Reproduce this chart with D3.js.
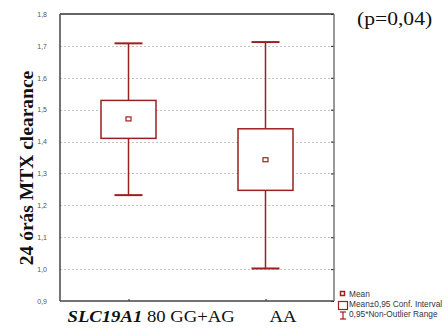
<!DOCTYPE html>
<html>
<head>
<meta charset="utf-8">
<script src="https://cdn.jsdelivr.net/npm/d3@7"></script>
<style>
  body { margin: 0; background: #fff; }
  svg { display: block; }
</style>
</head>
<body>
<div id="chart"></div>
<script>
// groups and their summary stats
var groups = ["GG+AG", "AA"];
var means = [1.471, 1.343];
var ciLow = [1.41, 1.247];
var ciHigh = [1.529, 1.44];
var rangeLow = [1.232, 1.002];
var rangeHigh = [1.708, 1.712];
var yTicks = [0.9, 1.0, 1.1, 1.2, 1.3, 1.4, 1.5, 1.6, 1.7, 1.8];
var legendItems = ["Mean", "Mean\u00b10,95 Conf. Interval", "0,95*Non-Outlier Range"];

var W = 448, H = 336;
var margin = { top: 14, right: 114, bottom: 35, left: 60 },
  width = W - margin.left - margin.right,
  height = H - margin.top - margin.bottom;

var red = "#9e1f1f";
var serif = "'Liberation Serif', 'Times New Roman', serif";

var svg = d3.select("#chart")
  .append("svg")
  .attr("width", W)
  .attr("height", H)
  .style("font-family", "Arial, 'Liberation Sans', sans-serif");

var g = svg.append("g")
  .attr("transform", "translate(" + margin.left + "," + margin.top + ")");

var x = d3.scalePoint()
  .domain(groups)
  .range([0, width])
  .padding(0.5);

var y = d3.scaleLinear()
  .domain([0.9, 1.8])
  .range([height, 0]);

var fmt = function (d) { return d3.format(".1f")(d).replace(".", ","); };

// dotted grid
g.append("g")
  .selectAll("line")
  .data(yTicks.filter(function (d) { return d > 0.95 && d < 1.75; }))
  .enter()
  .append("line")
  .attr("x1", 0)
  .attr("x2", width)
  .attr("y1", function (d) { return Math.round(y(d)) + 0.5; })
  .attr("y2", function (d) { return Math.round(y(d)) + 0.5; })
  .style("stroke", "#c4c4c4")
  .style("stroke-dasharray", "2,2")
  .style("stroke-width", 1);

// left axis labels
var yAxis = g.append("g")
  .call(d3.axisLeft(y).tickValues(yTicks).tickFormat(fmt).tickSize(0).tickPadding(13));
yAxis.select(".domain").remove();
yAxis.selectAll("text")
  .style("font-size", "7px")
  .style("fill", "#555")
  .style("font-family", "Arial, 'Liberation Sans', sans-serif");

// right side inner ticks
var yRight = g.append("g")
  .attr("transform", "translate(" + width + ",0)")
  .call(d3.axisRight(y).tickValues(yTicks).tickFormat("").tickSize(-3));
yRight.select(".domain").remove();
yRight.selectAll("line").style("stroke", "#222");

// bottom ticks
var xAxis = g.append("g")
  .attr("transform", "translate(0," + height + ")")
  .call(d3.axisBottom(x).tickFormat("").tickSize(-2));
xAxis.select(".domain").remove();
xAxis.selectAll("line").style("stroke", "#222");

// frame
g.append("line").attr("x1", 0).attr("x2", width).attr("y1", 0).attr("y2", 0)
  .style("stroke", "#333").style("stroke-width", 1.5);
g.append("line").attr("x1", 0).attr("x2", 0).attr("y1", 0).attr("y2", height)
  .style("stroke", "#444").style("stroke-width", 1.5);
g.append("line").attr("x1", 0).attr("x2", width).attr("y1", height).attr("y2", height)
  .style("stroke", "#444").style("stroke-width", 1.5);
g.append("line").attr("x1", width).attr("x2", width).attr("y1", 0).attr("y2", height)
  .style("stroke", "#777").style("stroke-width", 1.5);

// boxes
var boxW = 55, capW = 28;
var box = g.append("g")
  .selectAll("g")
  .data(groups)
  .enter()
  .append("g");

box.append("line")
  .attr("x1", function (d) { return x(d); })
  .attr("x2", function (d) { return x(d); })
  .attr("y1", function (d, i) { return y(rangeHigh[i]); })
  .attr("y2", function (d, i) { return y(rangeLow[i]); })
  .style("stroke", red).style("stroke-width", 1.5);

box.selectAll(".cap")
  .data(function (d, i) { return [[d, rangeHigh[i]], [d, rangeLow[i]]]; })
  .enter()
  .append("line")
  .attr("x1", function (d) { return x(d[0]) - capW / 2; })
  .attr("x2", function (d) { return x(d[0]) + capW / 2; })
  .attr("y1", function (d) { return y(d[1]); })
  .attr("y2", function (d) { return y(d[1]); })
  .style("stroke", red).style("stroke-width", 2);

box.append("rect")
  .attr("x", function (d) { return x(d) - boxW / 2; })
  .attr("y", function (d, i) { return y(ciHigh[i]); })
  .attr("width", boxW)
  .attr("height", function (d, i) { return y(ciLow[i]) - y(ciHigh[i]); })
  .style("fill", "#fff").style("stroke", red).style("stroke-width", 1.5);

box.append("rect")
  .attr("x", function (d) { return x(d) - 2.5; })
  .attr("y", function (d, i) { return y(means[i]) - 2; })
  .attr("width", 5)
  .attr("height", 4)
  .style("fill", "#fff").style("stroke", red).style("stroke-width", 1.2);

// category labels (the source is a bit stretched sideways)
var lab1 = svg.append("text")
  .attr("transform", "translate(" + (margin.left + x(groups[0]) - 61) + ",322) scale(1.1,1)")
  .style("font-family", serif)
  .style("font-size", "17px")
  .style("fill", "#111");
lab1.append("tspan").style("font-style", "italic").style("font-weight", "bold").text("SLC19A1");
lab1.append("tspan").text(" 80 " + groups[0]);

svg.append("text")
  .attr("transform", "translate(" + (margin.left + x(groups[1]) + 4) + ",322) scale(1.1,1)")
  .style("font-family", serif)
  .style("font-size", "17px")
  .style("fill", "#111")
  .text(groups[1]);

// y title
svg.append("text")
  .attr("transform", "translate(33,168) rotate(-90)")
  .attr("text-anchor", "middle")
  .style("font-family", serif)
  .style("font-weight", "bold")
  .style("font-size", "19.5px")
  .style("fill", "#111")
  .text("24 órás MTX clearance");

// p-value
svg.append("text")
  .attr("transform", "translate(357,25) scale(1.2,1)")
  .style("font-family", serif)
  .style("font-size", "18px")
  .style("fill", "#111")
  .text("(p=0,04)");

// legend
var leg = svg.append("g").attr("transform", "translate(338,289)");
leg.append("rect").attr("x", 2.5).attr("y", 2.5).attr("width", 4).attr("height", 4)
  .style("fill", "#fff").style("stroke", red).style("stroke-width", 1.5);
leg.append("rect").attr("x", 0.5).attr("y", 12.5).attr("width", 9).attr("height", 8)
  .style("fill", "#fff").style("stroke", red).style("stroke-width", 1.2);
leg.append("line").attr("x1", 5).attr("x2", 5).attr("y1", 23).attr("y2", 30)
  .style("stroke", red).style("stroke-width", 1.2);
leg.append("line").attr("x1", 2).attr("x2", 8).attr("y1", 23).attr("y2", 23)
  .style("stroke", red).style("stroke-width", 1.2);
leg.append("line").attr("x1", 2).attr("x2", 8).attr("y1", 30).attr("y2", 30)
  .style("stroke", red).style("stroke-width", 1.2);

leg.selectAll(".lt")
  .data(legendItems)
  .enter()
  .append("text")
  .attr("x", 11)
  .attr("y", function (d, i) { return 7.5 + i * 10; })
  .style("font-size", "8.3px")
  .style("fill", "#334")
  .text(function (d) { return d; });
</script>
</body>
</html>
